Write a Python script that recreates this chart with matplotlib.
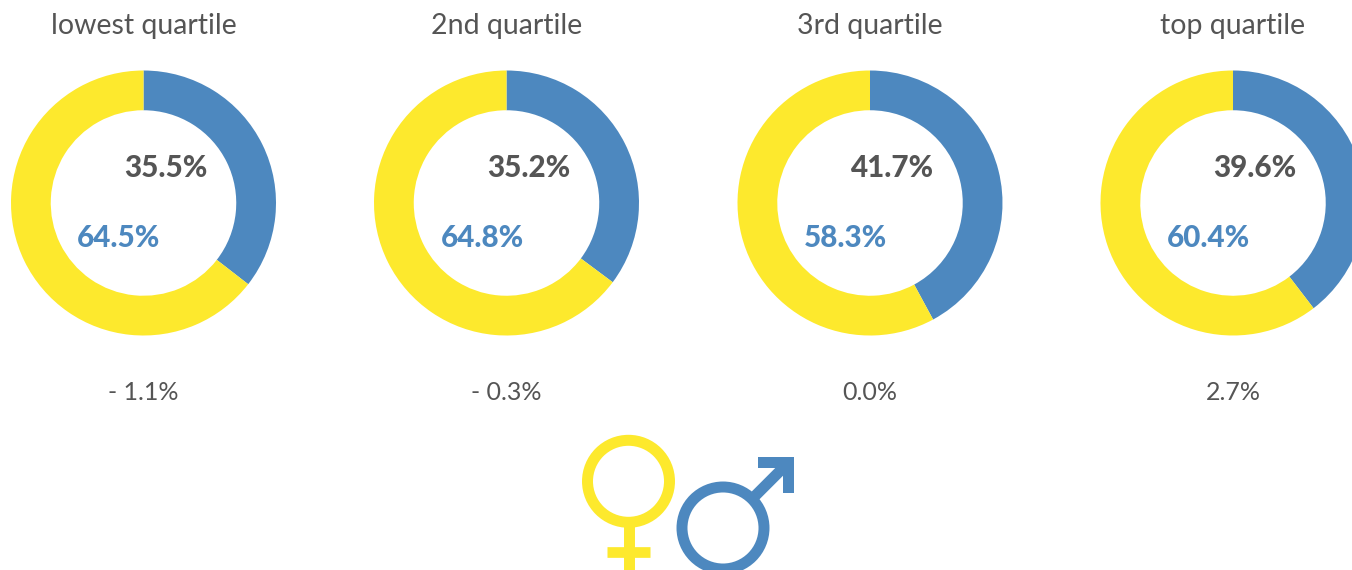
import matplotlib
matplotlib.use('Agg')
import matplotlib.pyplot as plt
from matplotlib.patches import Circle, Polygon

quartiles = ['lowest quartile', '2nd quartile', '3rd quartile', 'top quartile']
# arcs as drawn in the picture, the third one is a bit wider than its label
blue_share = [35.5, 35.2, 42.1, 39.6]
yellow_share = [64.5, 64.8, 57.9, 60.4]
blue_labels = ['35.5%', '35.2%', '41.7%', '39.6%']
yellow_labels = ['64.5%', '64.8%', '58.3%', '60.4%']
gaps = ['- 1.1%', '- 0.3%', '0.0%', '2.7%']

BLUE = '#4d88bf'
YELLOW = '#fde92d'
GREY = '#555555'
W, H = 1352, 570

plt.rcParams['font.family'] = ['Lato', 'DejaVu Sans']

fig = plt.figure(figsize=(W / 100, H / 100), dpi=100)

# full figure axes in pixels for the text and the symbols
bg = fig.add_axes([0, 0, 1, 1])
bg.set_xlim(0, W)
bg.set_ylim(H, 0)
bg.axis('off')

centers = [143.5, 506.5, 870, 1233]
r = 132.5
for i, cx in enumerate(centers):
    ax = fig.add_axes([(cx - r) / W, 1 - (203 + r) / H, 2 * r / W, 2 * r / H])
    ax.pie([blue_share[i], yellow_share[i]], colors=[BLUE, YELLOW], startangle=90,
           counterclock=False, radius=1, wedgeprops={'width': 0.3, 'linewidth': 0})
    ax.set_xlim(-1, 1)
    ax.set_ylim(-1, 1)

    bg.text(cx, 26, quartiles[i], ha='center', va='center', fontsize=20.5, color=GREY)
    bg.text(cx + 22, 168, blue_labels[i], ha='center', va='center', fontsize=21.3,
            fontweight='black', color=GREY, zorder=5)
    bg.text(cx - 24.5, 238, yellow_labels[i], ha='center', va='center', fontsize=21.3,
            fontweight='black', color=BLUE, zorder=5)
    bg.text(cx, 392, gaps[i], ha='center', va='center', fontsize=18, color=GREY)

sym = fig.add_axes([0, 0, 1, 1])
sym.set_xlim(0, W)
sym.set_ylim(H, 0)
sym.axis('off')
sym.patch.set_alpha(0)

# female symbol
sym.add_patch(Circle((628.5, 481.3), 41, fc='none', ec=YELLOW, lw=7.9))
sym.plot([628.5, 628.5], [525, 570], color=YELLOW, lw=7.9, solid_capstyle='butt')
sym.plot([607, 650], [552, 552], color=YELLOW, lw=7.7, solid_capstyle='butt')

# male symbol
sym.add_patch(Circle((723, 528), 41, fc='none', ec=BLUE, lw=7.9))
sym.plot([752, 788], [499, 463], color=BLUE, lw=7.9, solid_capstyle='butt')
sym.add_patch(Polygon([(757.7, 456.7), (794.3, 456.7), (794.3, 493.3), (783.3, 493.3),
                       (783.3, 467.7), (757.7, 467.7)],
                      closed=True, fc=BLUE, ec='none'))

fig.savefig('out.png', dpi=100)
